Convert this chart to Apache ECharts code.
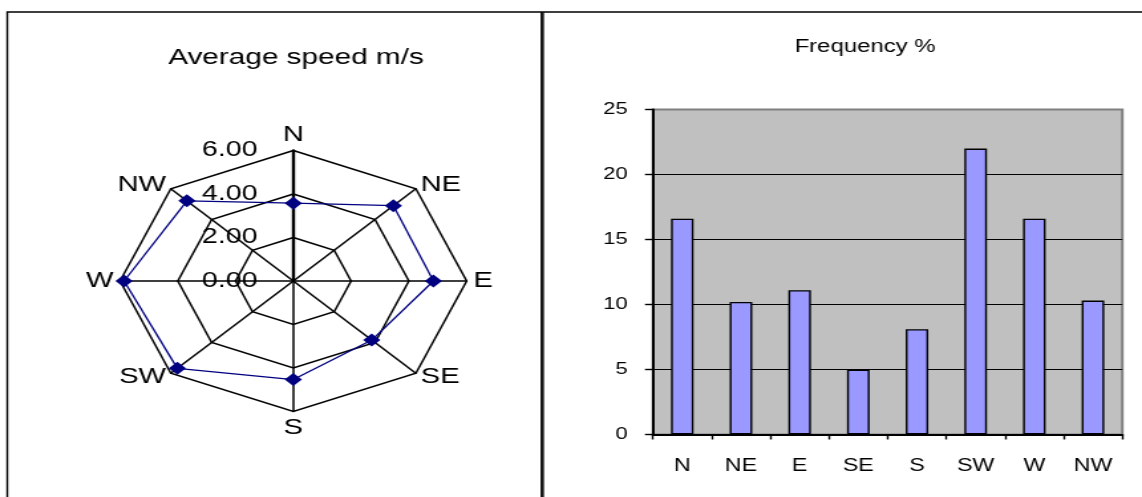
<!DOCTYPE html>
<html>
<head>
<meta charset="utf-8">
<script src="https://cdn.jsdelivr.net/npm/echarts@6/dist/echarts.min.js"></script>
<style>
  html, body { margin: 0; padding: 0; background: #fff; overflow: hidden; }
  /* The chart is laid out on an 860px-wide canvas and widened to the page width */
  #chart {
    width: 860px; height: 497px;
    transform: scaleX(1.3279); transform-origin: 0 0;
  }
</style>
</head>
<body>
<div id="chart"></div>
<script>
// Wind directions, clockwise from north
const directions = ['N', 'NE', 'E', 'SE', 'S', 'SW', 'W', 'NW'];
// Average wind speed per direction, m/s
const avgSpeed = [3.58, 4.90, 4.85, 3.84, 4.53, 5.68, 5.86, 5.21];
// Share of observations per direction, %
const frequency = [16.6, 10.2, 11.1, 5.0, 8.1, 22.0, 16.6, 10.3];

const speedMax = 6;
const freqMax = 25;
const freqStep = 5;
const FONT = 'Liberation Sans, Arial, sans-serif';

// ECharts lays radar indicators out counter-clockwise, so keep the first
// direction on top and reverse the rest to run them clockwise.
const order = [0].concat(directions.slice(1).map((_, i) => directions.length - 1 - i));
const radarNames = order.map(i => directions[i]);
const radarValues = order.map(i => avgSpeed[i]);

const chart = echarts.init(document.getElementById('chart'), null, { renderer: 'canvas' });

chart.setOption({
  animation: false,
  backgroundColor: '#fff',
  textStyle: { fontFamily: FONT },
  title: [
    {
      text: 'Average speed m/s', left: 222.9, top: 46.5, textAlign: 'center', padding: 0,
      textStyle: { fontFamily: FONT, fontSize: 22.4, fontWeight: 'normal', color: '#000' }
    },
    {
      text: 'Frequency %', left: 651.4, top: 38, textAlign: 'center', padding: 0,
      textStyle: { fontFamily: FONT, fontSize: 18, fontWeight: 'normal', color: '#000' }
    }
  ],
  graphic: [
    { type: 'rect', shape: { x: 5.5, y: 12, width: 402.3, height: 520 },
      style: { fill: null, stroke: '#000', lineWidth: 1.4 }, silent: true },
    { type: 'rect', shape: { x: 408.9, y: 12, width: 470, height: 520 },
      style: { fill: null, stroke: '#000', lineWidth: 1.4 }, silent: true }
  ],
  radar: {
    center: [220.9, 281],
    radius: 130.5,
    startAngle: 90,
    shape: 'polygon',
    splitNumber: 3,
    nameGap: 5,
    axisName: { color: '#000', fontSize: 22, fontFamily: FONT },
    splitLine: { lineStyle: { color: '#000', width: 1.5 } },
    splitArea: { show: false },
    axisLine: { lineStyle: { color: '#000', width: 1.5 } },
    axisTick: { show: false },
    axisLabel: { show: false },
    indicator: radarNames.map((name, i) => {
      const ind = { name: name, min: 0, max: speedMax };
      if (i === 0) {
        ind.axisLine = { lineStyle: { color: '#000', width: 2.4 } };
        ind.axisLabel = {
          show: true, color: '#000', fontSize: 21.5, fontFamily: FONT, margin: 27,
          verticalAlign: 'middle', lineHeight: 21.5, padding: [9, 0, 0, 0],
          formatter: v => Number(v).toFixed(2)
        };
      }
      return ind;
    })
  },
  grid: {
    left: 491.7, top: 109.5, width: 353.5, height: 325,
    show: true, backgroundColor: '#C0C0C0', borderColor: '#808080', borderWidth: 2
  },
  xAxis: {
    type: 'category',
    data: directions,
    boundaryGap: true,
    axisLine: { lineStyle: { color: '#000', width: 2 } },
    axisTick: { show: true, interval: 0, length: 5, lineStyle: { color: '#000', width: 1.4 } },
    axisLabel: { interval: 0, color: '#000', fontSize: 17.5, fontFamily: FONT, margin: 23 },
    splitLine: { show: false }
  },
  yAxis: {
    type: 'value',
    min: 0, max: freqMax, interval: freqStep,
    axisLine: { show: true, lineStyle: { color: '#000', width: 2 } },
    axisTick: { show: true, length: 6, lineStyle: { color: '#000', width: 1.4 } },
    axisLabel: { color: '#000', fontSize: 16.5, fontFamily: FONT, margin: 19 },
    splitLine: { show: true, showMinLine: false, showMaxLine: false, lineStyle: { color: '#000', width: 1.2 } }
  },
  series: [
    {
      type: 'radar',
      symbol: 'diamond',
      symbolSize: 13,
      lineStyle: { color: '#000080', width: 1.3 },
      itemStyle: { color: '#000080' },
      data: [{ value: radarValues, name: 'Average speed m/s' }]
    },
    {
      type: 'bar',
      data: frequency,
      barWidth: 17,
      itemStyle: { color: '#9999FF', borderColor: '#000', borderWidth: 1.4 }
    }
  ]
});
</script>
</body>
</html>
